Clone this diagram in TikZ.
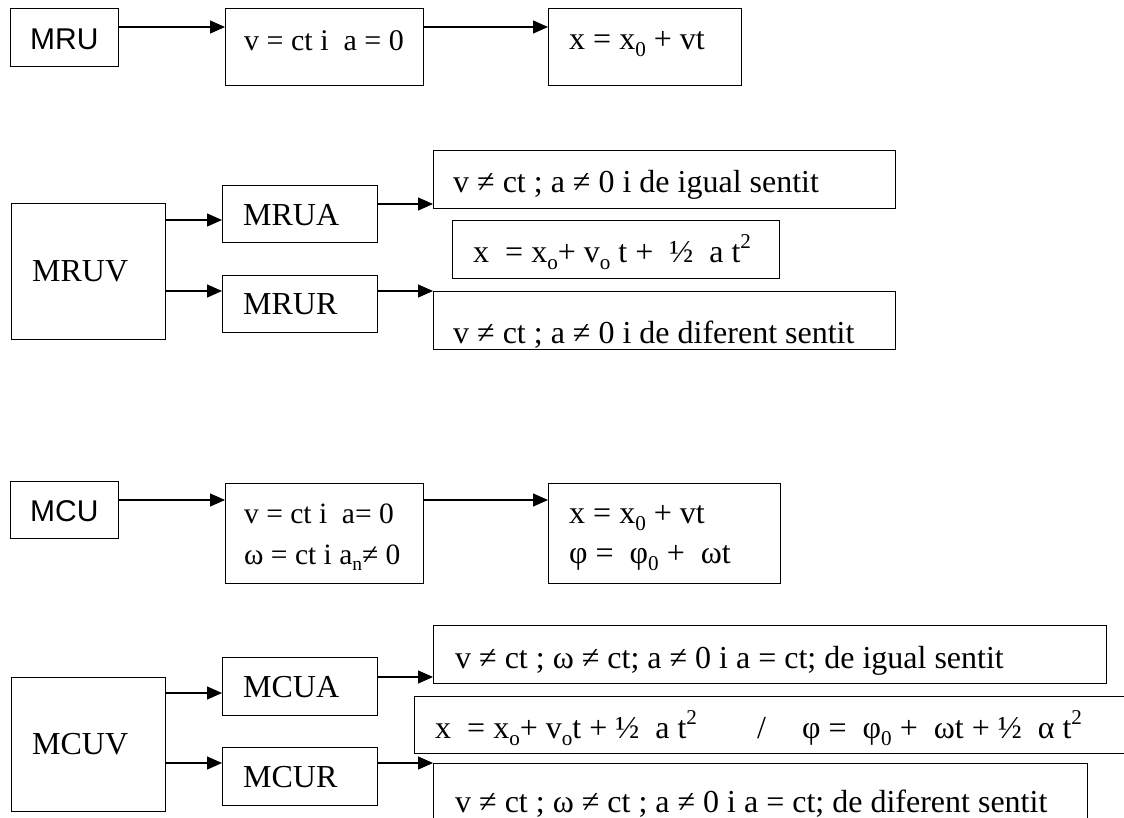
\documentclass[tikz,border=0pt]{standalone}
\usepackage{graphicx}
\usepackage{fontspec}
\setmainfont{Liberation Serif}
\newfontfamily\arialfont{Liberation Sans}
\usetikzlibrary{arrows.meta}

% small lowered / raised indices
\newcommand\idx[1]{\raisebox{-0.22em}{\scalebox{0.66}{#1}}}
\newcommand\pw[1]{\raisebox{0.42em}{\scalebox{0.66}{#1}}}

\tikzset{
  box/.style={draw, line width=1.3pt, inner sep=0pt, anchor=north west},
  txt/.style={anchor=base west, inner sep=0pt, font=\fontsize{32}{38}\selectfont},
  txts/.style={anchor=base west, inner sep=0pt, font=\fontsize{30}{36}\selectfont},
  txtm/.style={anchor=base west, inner sep=0pt, font=\fontsize{29.5}{35}\selectfont},
  txtsans/.style={anchor=base west, inner sep=0pt, font=\arialfont\fontsize{30}{36}\selectfont},
  arr/.style={line width=1.3pt, -{Triangle[length=15pt,width=13pt]}}
}

% box by its corners: name, x1, y1, x2, y2
\newcommand\bx[5]{%
  \pgfmathsetmacro\bw{#4-#2}\pgfmathsetmacro\bh{#5-#3}%
  \node[box, minimum width=\bw pt, minimum height=\bh pt] (#1) at (#2,#3) {};}

\begin{document}
\begin{tikzpicture}[x=1pt, y=-1pt]
\useasboundingbox (0,0) rectangle (1124,817);
\clip (0,0) rectangle (1124,817);

% levels of the connectors
\coordinate (r1) at (0,27);
\coordinate (r2) at (0,220);
\coordinate (r3) at (0,291);
\coordinate (r4) at (0,204);
\coordinate (r5) at (0,500);
\coordinate (r6) at (0,693);
\coordinate (r7) at (0,763);
\coordinate (r8) at (0,677);

% ---- MRU ----
\bx{mru}{10}{8}{118}{66}
\bx{mruv1}{225}{8}{423}{85}
\bx{mrux}{548}{8}{741}{85}
\node[txtsans] (mru-t) at (30,49) {MRU};
\node[txts] (mruv1-t) at (244,50) {v = ct i~ a = 0};
\node[txt] (mrux-t) at (569,49) {x = x\idx{0} + vt};
\draw[arr] (mru.east |- r1) -- (mruv1.west |- r1);
\draw[arr] (mruv1.east |- r1) -- (mrux.west |- r1);

% ---- MRUV ----
\bx{mruv}{11}{203}{165}{339}
\bx{mrua}{222}{185}{377}{242}
\bx{mrur}{222}{275}{377}{332}
\bx{ua}{433}{150}{895}{208}
\bx{ux}{452}{220}{779}{278}
\bx{ur}{433}{291}{895}{349}
\node[txt] (mruv-t) at (32,281) {MRUV};
\node[txt] (mrua-t) at (243,225) {MRUA};
\node[txt] (mrur-t) at (243,314) {MRUR};
\node[txt] (ua-t) at (453,192) {v ≠ ct ; a ≠ 0 i de igual sentit};
\node[txt] (ux-t) at (473,262) {x~ = x\idx{o}+ v\idx{o} t + ~½~ a t\pw{2}};
\node[txt] (ur-t) at (453,343) {v ≠ ct ; a ≠ 0 i de diferent sentit};
\draw[arr] (mruv.east |- r2) -- (mrua.west |- r2);
\draw[arr] (mruv.east |- r3) -- (mrur.west |- r3);
\draw[arr] (mrua.east |- r4) -- (ua.west |- r4);
\draw[arr] (mrur.east |- r3) -- (ur.north west);

% ---- MCU ----
\bx{mcu}{10}{481}{118}{538}
\bx{mcuv1}{225}{483}{423}{583}
\bx{mcux}{548}{483}{780}{583}
\node[txtsans] (mcu-t) at (30,521) {MCU};
\node[txtm] (mcuv1-a) at (244,523) {v = ct i~ a= 0};
\node[txtm] (mcuv1-b) at (244,564) {ω = ct i a\idx{n}≠ 0};
\node[txt] (mcux-a) at (569,523) {x = x\idx{0} + vt};
\node[txt] (mcux-b) at (569,563) {φ = ~φ\idx{0} + ~ωt};
\draw[arr] (mcu.east |- r5) -- (mcuv1.west |- r5);
\draw[arr] (mcuv1.east |- r5) -- (mcux.west |- r5);

% ---- MCUV ----
\bx{mcuv}{11}{677}{165}{811}
\bx{mcua}{222}{657}{377}{715}
\bx{mcur}{222}{747}{377}{805}
\bx{ca}{433}{625}{1106}{683}
\bx{cx}{414}{696}{1140}{753}
\bx{cr}{433}{763}{1087}{840}
\node[txt] (mcuv-t) at (32,754) {MCUV};
\node[txt] (mcua-t) at (243,697) {MCUA};
\node[txt] (mcur-t) at (243,787) {MCUR};
\node[txt] (ca-t) at (455,668) {v ≠ ct ; ω ≠ ct; a ≠ 0 i a = ct; de igual sentit};
\node[txt] (cx-a) at (435,738) {x~ = x\idx{o}+ v\idx{o}t + ½~ a t\pw{2}};
\node[txt] (cx-s) at (757,738) {/};
\node[txt] (cx-b) at (802,738) {φ = ~φ\idx{0} + ~ωt + ½~ α t\pw{2}};
\node[txt] (cr-t) at (455,812) {v ≠ ct ; ω ≠ ct ; a ≠ 0 i a = ct; de diferent sentit};
\draw[arr] (mcuv.east |- r6) -- (mcua.west |- r6);
\draw[arr] (mcuv.east |- r7) -- (mcur.west |- r7);
\draw[arr] (mcua.east |- r8) -- (ca.west |- r8);
\draw[arr] (mcur.east |- r7) -- (cr.north west);
\end{tikzpicture}
\end{document}
